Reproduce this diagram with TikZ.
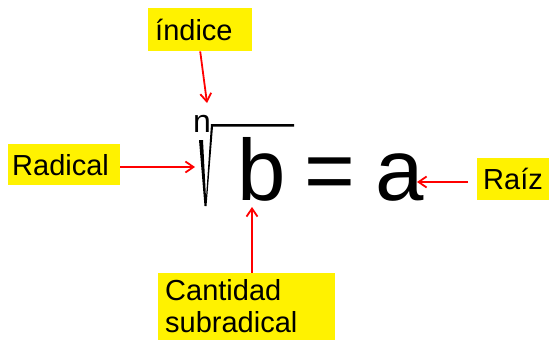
\documentclass[tikz,border=0pt]{standalone}
\usepackage{fontspec}
\setmainfont{Liberation Sans}
\usetikzlibrary{arrows.meta,positioning}

\begin{document}
\begin{tikzpicture}[
  x=1pt, y=-1pt,
  labelbox/.style={rectangle, fill=yellow, anchor=north west, inner xsep=6pt, inner ysep=0pt, align=left, font=\fontsize{29}{32}\selectfont},
  term/.style={anchor=base west, inner sep=0pt, font=\fontsize{87}{90}\selectfont},
  pointer/.style={draw=red, line width=1.8pt, -{Straight Barb[length=8pt,width=11pt]}}
]
\useasboundingbox (0,0) rectangle (556,340);

% Labels
\node[labelbox, text width=90pt, minimum height=43pt, inner xsep=7pt] (indice) at (148,8) {índice};
\node[labelbox, text width=104pt, minimum height=41pt, inner xsep=4pt] (radical) at (8,144) {Radical};
\node[labelbox, text width=60pt, minimum height=42pt] (raiz) at (477,158) {Raíz};
\node[labelbox, text width=163pt, inner xsep=7pt, inner ysep=3pt] (cantidad) at (158,273) {\rule{0pt}{24pt}Cantidad\\subradical\rule[-5pt]{0pt}{5pt}};

% Expression
\node[anchor=base west, inner sep=0pt, font=\fontsize{32}{34}\selectfont] (index) at (193,132) {n};
\fill (199,140) -- (203,140) -- (206,198) -- (211,124) -- (294,124) -- (294,126.5)
  -- (213,126.5) -- (206.5,206) -- (204.5,206) -- cycle;
\node[term] (radicand) at (237,200) {b};
\node[term] (equals) at (304,200) {=};
\node[term] (root) at (375,200) {a};

% Arrows
\coordinate (indexTip) at (207,103);
\coordinate (radicalTip) at (195,167);
\coordinate (radicandTip) at (252,207);
\coordinate (rootTip) at (417,182);
\draw[pointer] (indice.south) -- (indexTip);
\draw[pointer] (radical.east |- radicalTip) -- (radicalTip);
\draw[pointer] (cantidad.north -| radicandTip) -- (radicandTip);
\draw[pointer, shorten <=9pt] (raiz.west |- rootTip) -- (rootTip);

\end{tikzpicture}
\end{document}
